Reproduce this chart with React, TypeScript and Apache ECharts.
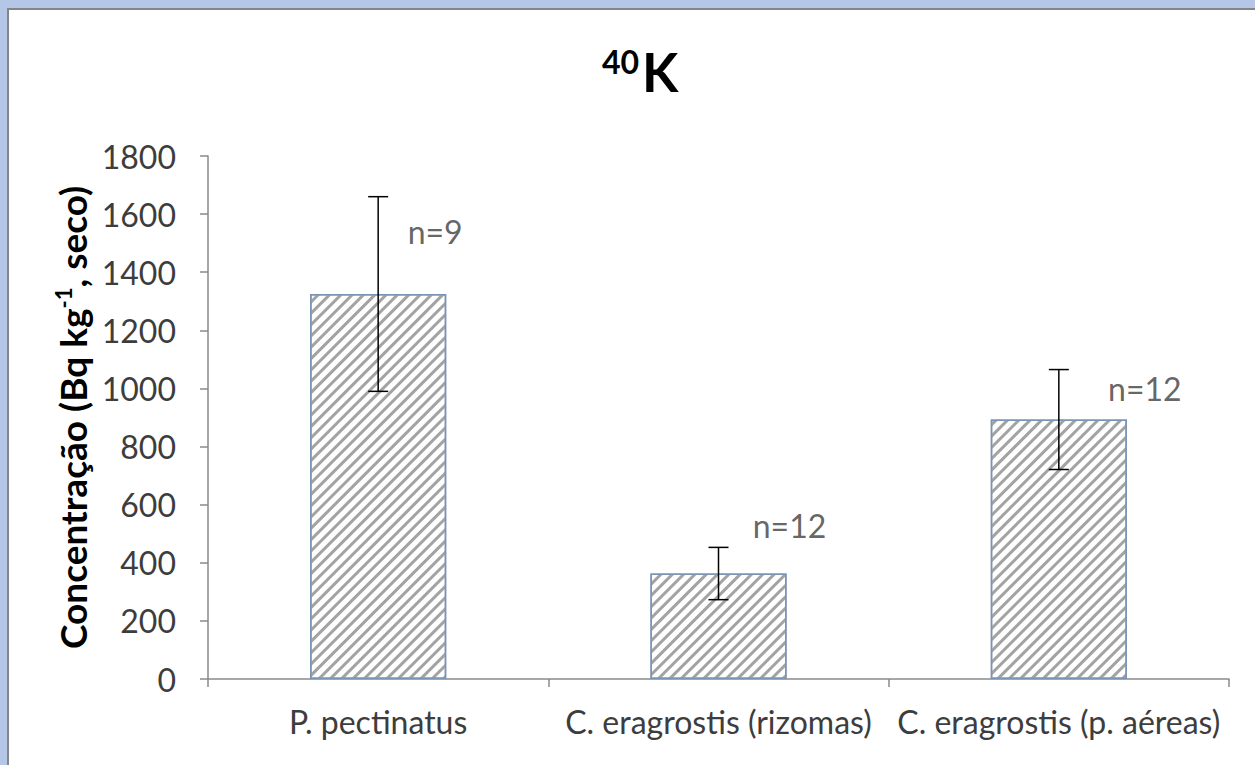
import React, { useEffect, useRef } from "react";
import * as echarts from "echarts";

const categories = ["P. pectinatus", "C. eragrostis (rizomas)", "C. eragrostis (p. aéreas)"];
const means = [1325, 363, 893];
const errors = [335, 90, 172];
const nLabels = ["n=9", "n=12", "n=12"];
const nLabelY = [1540, 530, 1000];
const nLabelDx = [57, 71, 86];
const yTicks = { min: 0, max: 1800, interval: 200 };

const FONT = "Lato, 'Open Sans', sans-serif";
const TXT = "#3d3d3d";

export default function App() {
  const ref = useRef<HTMLDivElement>(null);
  useEffect(() => {
    if (!ref.current) return;
    const chart = echarts.init(ref.current, null, { renderer: "svg" });
    const errData = categories.map((c, i) => [i, means[i] - errors[i], means[i] + errors[i]]);
    const labelData = categories.map((c, i) => ({
      value: [i, nLabelY[i]],
      label: { offset: [nLabelDx[i], 0], formatter: nLabels[i] },
    }));
    chart.setOption({
      animation: false,
      backgroundColor: "#b4c7e7",
      textStyle: { fontFamily: FONT },
      graphic: [
        {
          type: "rect",
          z: -10,
          shape: { x: 8, y: 9, width: 1270, height: 780 },
          style: { fill: "#ffffff", stroke: "#858585", lineWidth: 2 },
        },
      ],
      title: {
        text: "{sup|40}{k|K}",
        left: 597,
        top: 40,
        textStyle: {
          rich: {
            sup: { fontSize: 32, fontWeight: "bold", lineHeight: 32, verticalAlign: "top", color: "#000", fontFamily: FONT, padding: [0, 3, 0, 0] },
            k: { fontSize: 53, fontWeight: "bold", lineHeight: 53, color: "#000", fontFamily: FONT },
          },
        },
      },
      grid: { left: 208, right: 26, top: 156, bottom: 86, containLabel: false },
      xAxis: {
        type: "category",
        data: categories,
        axisLine: { lineStyle: { color: "#8a8a8a", width: 1.5 } },
        axisTick: { show: true, inside: false, length: 8, lineStyle: { color: "#8a8a8a", width: 1.5 } },
        axisLabel: { color: TXT, fontSize: 32, margin: 26, fontFamily: FONT, interval: 0, hideOverlap: false },
      },
      yAxis: {
        type: "value",
        min: yTicks.min,
        max: yTicks.max,
        interval: yTicks.interval,
        name: "{a|Concentração (Bq kg}{s|-1}{a|, seco)}",
        nameLocation: "middle",
        nameRotate: 90,
        nameGap: 107,
        nameTextStyle: {
          rich: {
            a: { fontSize: 37, fontWeight: "bold", color: "#000", fontFamily: FONT, lineHeight: 40 },
            s: { fontSize: 22, fontWeight: "bold", color: "#000", fontFamily: FONT, lineHeight: 22, verticalAlign: "top" },
          },
        },
        axisLine: { show: true, lineStyle: { color: "#8a8a8a", width: 1.5 } },
        axisTick: { show: true, length: 8, lineStyle: { color: "#8a8a8a", width: 1.5 } },
        splitLine: { show: false },
        axisLabel: { color: TXT, fontSize: 32, margin: 32, fontFamily: FONT, formatter: (v: number) => String(v) },
      },
      series: [
        {
          type: "bar",
          data: means,
          barWidth: "40%",
          itemStyle: {
            color: "#ffffff",
            borderColor: "#7a95b4",
            borderWidth: 1.5,
            decal: {
              symbol: "rect",
              symbolSize: 1,
              color: "#a3a3a3",
              dashArrayX: [1, 0],
              dashArrayY: [3, 5],
              rotation: -Math.PI / 4,
            },
          },
          z: 2,
        },
        {
          type: "custom",
          data: errData,
          z: 5,
          renderItem: (params: any, api: any) => {
            const x = api.value(0);
            const lo = api.coord([x, api.value(1)]);
            const hi = api.coord([x, api.value(2)]);
            const half = 10;
            const st = { stroke: "#000", lineWidth: 1.5 };
            return {
              type: "group",
              children: [
                { type: "line", shape: { x1: lo[0], y1: lo[1], x2: hi[0], y2: hi[1] }, style: st },
                { type: "line", shape: { x1: hi[0] - half, y1: hi[1], x2: hi[0] + half, y2: hi[1] }, style: st },
                { type: "line", shape: { x1: lo[0] - half, y1: lo[1], x2: lo[0] + half, y2: lo[1] }, style: st },
              ],
            };
          },
        },
        {
          type: "scatter",
          data: labelData,
          symbolSize: 0,
          z: 6,
          label: {
            show: true,
            position: "inside",
            color: TXT,
            fontSize: 32,
            fontFamily: FONT,
          },
        },
      ],
    });
    return () => chart.dispose();
  }, []);
  return (
    <div style={{ position: "fixed", left: 0, top: 0, width: 1255, height: 765 }}>
      <div ref={ref} style={{ width: 1255, height: 765 }} />
    </div>
  );
}
